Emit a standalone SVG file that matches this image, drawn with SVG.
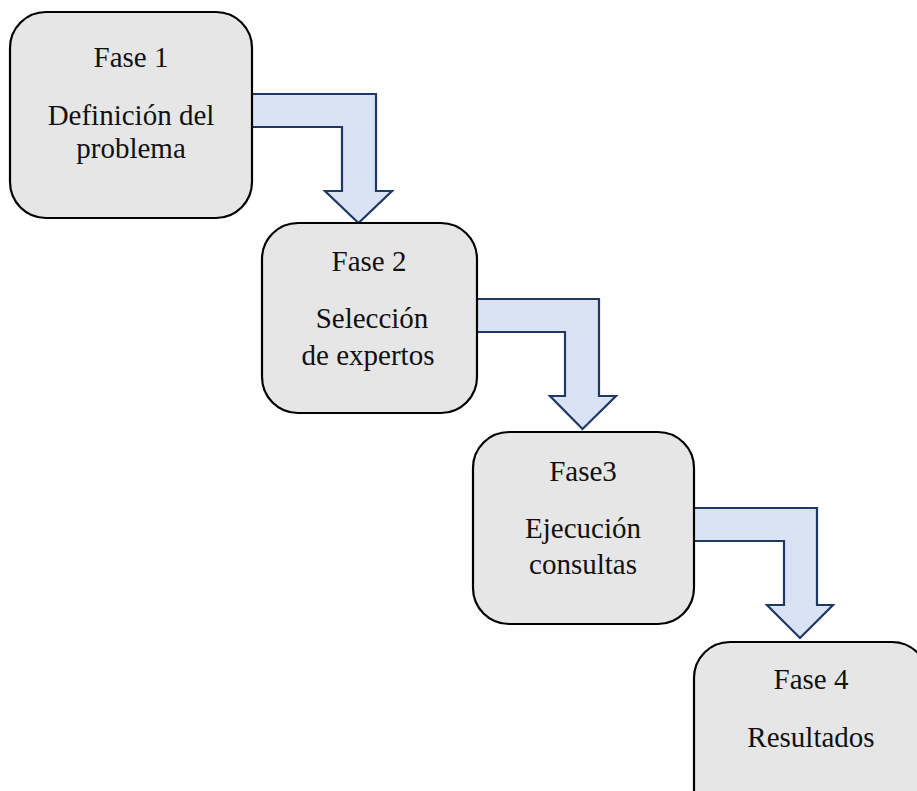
<svg xmlns="http://www.w3.org/2000/svg" width="917" height="791" viewBox="0 0 917 791">
  <style>
    .box { fill: #e6e6e6; stroke: #000; stroke-width: 2.2; }
    .arrow { fill: #dae3f3; stroke: #1f3864; stroke-width: 2.2; stroke-linejoin: miter; }
    .lbl { font-family: 'Liberation Serif', 'Times New Roman', 'DejaVu Serif', serif; font-size: 29px; fill: #111; text-anchor: middle; }
  </style>
  <rect width="917" height="791" fill="#ffffff"/>

  <!-- bent block arrows between phases -->
  <g id="connectors">
    <path class="arrow" d="M246,94 H376 V191 H392 L358.5,223 L325,191 H342 V127 H246 Z"/>
    <path class="arrow" d="M470,299 H599 V396 H616 L582.5,429 L550,396 H565 V332 H470 Z"/>
    <path class="arrow" d="M688,508 H817 V605 H833 L800,638 L767,605 H784 V541 H688 Z"/>
  </g>

  <g id="fase1">
    <rect class="box" x="10" y="12" width="242" height="206" rx="36"/>
    <text class="lbl" x="131" y="67" font-family="Liberation Serif, serif">Fase 1</text>
    <text class="lbl" x="131" y="125" font-family="Liberation Serif, serif">Definición del</text>
    <text class="lbl" x="131" y="158" font-family="Liberation Serif, serif">problema</text>
  </g>

  <g id="fase2">
    <rect class="box" x="262" y="223" width="215" height="190" rx="36"/>
    <text class="lbl" x="369" y="271" font-family="Liberation Serif, serif">Fase 2</text>
    <text class="lbl" x="372" y="328" font-family="Liberation Serif, serif">Selección</text>
    <text class="lbl" x="368" y="365" font-family="Liberation Serif, serif">de expertos</text>
  </g>

  <g id="fase3">
    <rect class="box" x="473" y="432" width="221" height="192" rx="36"/>
    <text class="lbl" x="583" y="481" font-family="Liberation Serif, serif">Fase3</text>
    <text class="lbl" x="583" y="538" font-family="Liberation Serif, serif">Ejecución</text>
    <text class="lbl" x="583" y="574" font-family="Liberation Serif, serif">consultas</text>
  </g>

  <g id="fase4">
    <rect class="box" x="694" y="642" width="234" height="195" rx="36"/>
    <text class="lbl" x="811" y="689" font-family="Liberation Serif, serif">Fase 4</text>
    <text class="lbl" x="811" y="747" font-family="Liberation Serif, serif">Resultados</text>
  </g>
</svg>
